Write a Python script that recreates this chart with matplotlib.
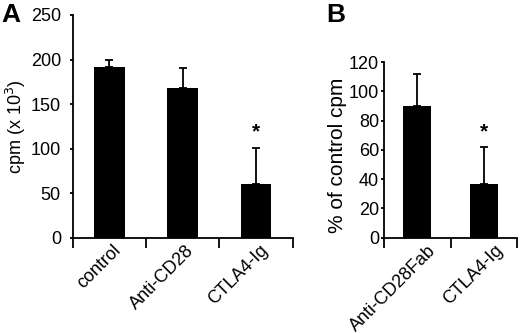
"""Proliferation (cpm) and % of control cpm bar charts, panels A and B."""

import matplotlib
matplotlib.use("Agg")
import matplotlib.pyplot as plt
import matplotlib.transforms as mtransforms
import numpy as np

plt.rcParams["font.family"] = ["Liberation Sans", "DejaVu Sans"]

# Panel A: cpm (x 10^3)
a_labels = ["control", "Anti-CD28", "CTLA4-Ig"]
a_values = [192, 168, 60]
a_errors = [8, 23, 41]
a_star = [False, False, True]

# Panel B: % of control cpm
b_labels = ["Anti-CD28Fab", "CTLA4-Ig"]
b_values = [90, 37]
b_errors = [22, 25]
b_star = [False, True]


def draw_panel(fig, ax, labels, values, errors, stars, ymax, ystep, ylabel,
               star_off, ypad, label_dx, ylabel_size):
    x = np.arange(len(labels)) + 0.5
    ax.bar(x, values, width=0.42, color="black", zorder=2)
    ax.errorbar(x, values, yerr=[np.zeros(len(errors)), errors], fmt="none",
                ecolor="black", elinewidth=1.3, capsize=3, capthick=1.3, zorder=1)
    for xi, v, e, s in zip(x, values, errors, stars):
        if s:
            ax.text(xi, v + e + star_off, "*", ha="center", va="center",
                    fontsize=15, fontweight="bold")

    ax.set_xlim(0, len(labels))
    ax.set_ylim(0, ymax)
    ax.spines["top"].set_visible(False)
    ax.spines["right"].set_visible(False)
    ax.spines["left"].set_linewidth(1.3)
    ax.spines["bottom"].set_linewidth(1.3)

    # major ticks at category boundaries, labels at centres
    ax.set_xticks(np.arange(len(labels) + 1))
    ax.set_xticklabels([])
    ax.set_xticks(x, minor=True)
    ax.set_xticklabels(labels, minor=True, rotation=45, ha="right",
                       rotation_mode="anchor", fontsize=13)
    ax.tick_params(axis="x", which="major", direction="out", length=7, width=1.3)
    ax.tick_params(axis="x", which="minor", length=0, pad=3)
    shift = mtransforms.ScaledTranslation(label_dx / 100, 0, fig.dpi_scale_trans)
    for lab in ax.get_xticklabels(minor=True):
        lab.set_transform(lab.get_transform() + shift)

    ax.set_yticks(np.arange(0, ymax + 1, ystep))
    ax.tick_params(axis="y", direction="out", length=2.5, width=1.3,
                   labelsize=13, pad=ypad)
    ax.set_ylabel(ylabel, fontsize=ylabel_size, labelpad=2)


fig = plt.figure(figsize=(5.2, 3.33), dpi=100)
ax_a = fig.add_axes([0.1398, 0.2862, 0.4231, 0.6688])
ax_b = fig.add_axes([0.7385, 0.2862, 0.2563, 0.5276])

draw_panel(fig, ax_a, a_labels, a_values, a_errors, a_star, 250, 50,
           "cpm (x 10$^3$)", 18, 6, 3, 13)
draw_panel(fig, ax_b, b_labels, b_values, b_errors, b_star, 120, 20,
           "% of control cpm", 10, 1, 10, 15)
ax_b.yaxis.set_label_coords(-0.28, 0.47)

fig.text(0.003, 0.99, "A", fontsize=19, fontweight="bold", va="top", ha="left")
fig.text(0.628, 0.99, "B", fontsize=19, fontweight="bold", va="top", ha="left")

fig.savefig("out.png", dpi=100)
plt.close(fig)
